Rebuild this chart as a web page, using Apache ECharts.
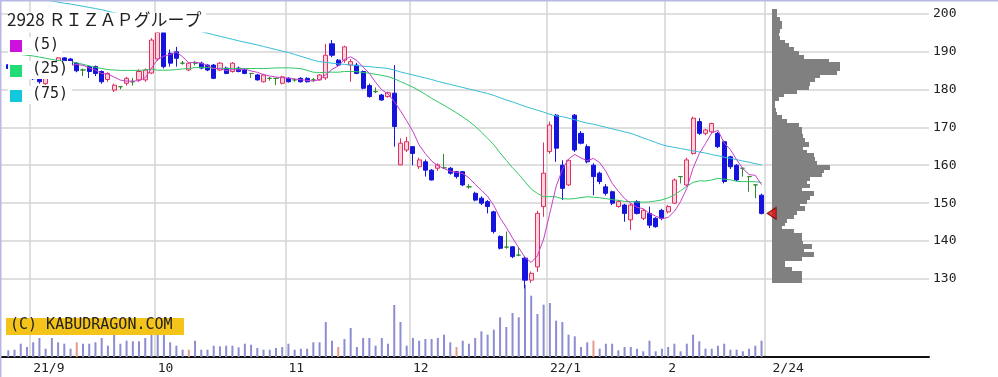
<!DOCTYPE html>
<html><head><meta charset="utf-8">
<script src="https://cdn.jsdelivr.net/npm/echarts/dist/echarts.min.js"></script>
<style>html,body{margin:0;padding:0;background:#fff;overflow:hidden}#c{width:998px;height:377px}</style>
</head><body><div id="c"></div>
<script>
// ---- trading days (categories) ----
const dates = [
'2021-08-26','2021-08-27','2021-08-30','2021-08-31',
'2021-09-01','2021-09-02','2021-09-03','2021-09-06','2021-09-07','2021-09-08','2021-09-09','2021-09-10','2021-09-13','2021-09-14','2021-09-15','2021-09-16','2021-09-17','2021-09-21','2021-09-22','2021-09-24','2021-09-27','2021-09-28','2021-09-29','2021-09-30',
'2021-10-01','2021-10-04','2021-10-05','2021-10-06','2021-10-07','2021-10-08','2021-10-11','2021-10-12','2021-10-13','2021-10-14','2021-10-15','2021-10-18','2021-10-19','2021-10-20','2021-10-21','2021-10-22','2021-10-25','2021-10-26','2021-10-27','2021-10-28','2021-10-29',
'2021-11-01','2021-11-02','2021-11-04','2021-11-05','2021-11-08','2021-11-09','2021-11-10','2021-11-11','2021-11-12','2021-11-15','2021-11-16','2021-11-17','2021-11-18','2021-11-19','2021-11-22','2021-11-24','2021-11-25','2021-11-26','2021-11-29','2021-11-30',
'2021-12-01','2021-12-02','2021-12-03','2021-12-06','2021-12-07','2021-12-08','2021-12-09','2021-12-10','2021-12-13','2021-12-14','2021-12-15','2021-12-16','2021-12-17','2021-12-20','2021-12-21','2021-12-22','2021-12-23','2021-12-24','2021-12-27','2021-12-28','2021-12-29','2021-12-30',
'2022-01-04','2022-01-05','2022-01-06','2022-01-07','2022-01-11','2022-01-12','2022-01-13','2022-01-14','2022-01-17','2022-01-18','2022-01-19','2022-01-20','2022-01-21','2022-01-24','2022-01-25','2022-01-26','2022-01-27','2022-01-28','2022-01-31',
'2022-02-01','2022-02-02','2022-02-03','2022-02-04','2022-02-07','2022-02-08','2022-02-09','2022-02-10','2022-02-14','2022-02-15','2022-02-16','2022-02-17','2022-02-18','2022-02-21','2022-02-22','2022-02-24'
];
// ---- daily prices ----
const open = [186.5,185.5,186.5,184.5,183.5,184.5,181.5,183.5,185.5,188.3,188,186.9,185.1,186,186,184.7,182.6,179.8,180.7,181.6,182,182.5,182.5,184.3,
188,195,189.5,189.9,186.9,185.1,186.9,186.9,186.4,186.4,185.1,185.6,184.7,185.6,185.1,184.2,183.8,182,182.9,182.9,181.6,
182.9,182.5,182.9,182.9,182.5,182.5,183,192,187.7,187.7,186.4,186.4,184.7,181,179.4,178.5,178.1,179,160.1,164,
164.9,159.6,160.9,158.7,159.2,159.3,159.2,158.3,158.3,154.3,152.6,151.3,150.4,147.7,141.2,138.4,138.5,136.3,135.5,129.7,133.2,149.1,
163.6,173.2,160,154.8,173.2,168.4,164.9,160,157.9,154.3,153,149.1,149.5,145.6,150.4,146,147.3,146,148.1,
147.7,150,157,154.8,163.1,171.5,168.4,168.8,168.4,166.2,162.2,160,159.2,157,154.8,152.1];
const high = [187,187,186.8,185,184,185,184.5,186.5,188.5,188.5,188.3,187.2,185.5,186.3,186.3,185,184.5,181.5,180.7,183.3,183,185.3,185.5,193.5,
195.5,195.3,190.5,191.2,187.5,187.2,187.5,187.3,186.6,186.7,187.2,186,187.2,186,185.4,184.2,184.1,184.1,183.3,182.9,183.6,
183.2,182.9,183.2,183.2,183,184,192,193,188,191.5,188,187,185,181.5,180.5,178.8,179.4,186.4,167.1,167.5,
165,162,161.5,159,160.5,163,159.5,158.5,158.5,155,153,151.8,150.8,148,141.5,142.5,138.7,138.4,136,132,148,166,
171.5,173.5,161.3,161.5,173.5,169,165.5,160.5,158.3,155,153.3,150.8,149.8,150,150.8,148.5,149.1,146.3,148.5,
149.5,156.5,157,162,172.8,172.4,169.6,171.2,168.8,166.5,162.5,160.3,159.2,157,155,152.5];
const low = [185,185,184,183,182.5,181.5,181.2,183.3,185.3,186.5,186.2,184.5,183.5,183,183.5,181.5,182,179.3,180,181,181,182,182,184,
187.5,185.5,186,186,186.5,184.8,186.3,185.3,184.8,182.7,184.8,184,184.4,184.5,184,183,182.3,181.8,182.3,181.1,181.3,
181.8,182,181.8,181.8,182,182.3,182.5,188.5,186,187,182,184,180,177.8,179,177,177.8,164.9,160,163.5,
160,159,157,156,158.5,159,157.5,156.5,154.5,153.8,150.5,149.5,147.3,142,137.8,138,135.5,136,127.5,129,131.9,146.4,
163,160.9,150.8,154.5,163.5,165.5,160.5,152.1,155,152,149.5,148.8,145.1,142.9,147,145.5,143.4,143.5,145.5,
147.3,149.8,155.2,154.5,162.8,168,167.9,168.5,164.5,155.2,159,155.8,157,153,151.3,147];
const close = [185.5,186.5,184.5,183.2,182.8,182,184,186,188.3,187,186.5,184.9,185.1,184.7,184.2,182,184.2,181.1,180.7,182.9,182,184.7,185.1,193,
195,186,186.9,188.2,186.9,186.9,186.9,185.6,185.1,182.9,186.9,184.2,186.9,184.7,184.2,184.2,182.5,183.8,182.9,182.9,183.3,
182,182.5,182,182,182.5,183.8,189,189,186.4,191.2,187.3,184.2,180.3,178.1,179.4,177.2,179.1,170.2,165.8,166.2,
163.1,161.4,158.7,156.1,160.1,159.3,157.9,157,154.8,154.3,150.8,150,149.1,142.5,138.1,138.4,135.9,136.3,129.7,131.5,147.3,157.9,
170.6,164.5,153.9,161.3,164,165.8,160.9,157,155.7,152.6,150,150.4,147.3,149.5,147.3,148.1,144.2,143.8,146,
149.1,156.1,157,161.4,172.4,168.4,169.3,171,164.9,155.7,159.6,156.1,159.2,157,154.8,147.3];
const volume = [6.7,7.3,13.3,10,14.7,19,8.3,19,14.7,13.3,8.3,14.7,13.3,13.3,14.7,19,11.3,22.3,13.3,16.3,15.7,15.7,19,22.3,
22.3,22.3,14.7,11.3,7.3,7.3,16.3,7.3,7.3,11.3,10.7,11.3,11.3,9.7,13.3,12.3,9,7.3,7.3,9,10,
13.3,7.3,8.3,8.3,14.7,14.7,35,16.3,10,18,29,10,19,19,11.3,19,13.3,52,35,11.3,
19,16.3,18,18,19,22.3,14.7,10,16.3,13.3,19,25.7,22.3,27.3,39.7,30,44,39.7,72.3,61.3,43,52.3,
54,36.3,35,22.3,20.7,10,14.7,16.3,8.3,13.3,13.3,6.7,10,10,8.3,5.7,16.3,5.7,8.3,
10,13.3,5.7,13.3,22.3,15.7,8.3,8.3,11.3,13.3,7.3,7.3,5.7,8.3,11.3,16.3];
const redVolumeDays = ['2021-09-10','2021-10-08','2021-11-12','2021-12-10','2022-01-14'];
// ---- moving averages ----
const ma25Lead = [189.6,189.4,189.2,189.0,188.8,188.5,188.2,187.9,187.6,187.4,187.2,187.0,186.6,186.2,185.8,185.5,185.2,185.1,185.0,185.0,185.0,185.0,185.1,185.4];
const ma75 = [205.5,205.2,204.9,204.6,204.2,203.9,203.6,203.3,203.0,202.7,
202.5,202.2,201.9,201.6,201.3,201.0,200.6,200.2,199.9,199.5,
199.2,198.8,198.5,198.1,197.8,197.4,197.0,196.7,196.3,195.9,
195.5,195.2,194.8,194.4,194.0,193.6,193.2,192.8,192.4,192.1,
191.7,191.3,190.9,190.5,190.1,189.7,189.2,188.7,188.2,187.7,
187.3,187.1,186.9,186.7,186.6,186.4,186.3,186.1,186.0,185.8,
185.7,185.5,185.1,184.6,184.2,183.8,183.4,183.0,182.6,182.1,
181.7,181.3,180.9,180.5,180.1,179.7,179.3,178.9,178.4,177.8,
177.2,176.7,176.1,175.5,175.0,174.5,174.0,173.4,173.0,172.8,
172.4,172.0,171.5,171.1,170.8,170.4,170.0,169.6,169.2,168.8,
168.4,167.8,167.2,166.6,166.0,165.4,165.0,164.7,164.4,164.1,
163.8,163.5,163.2,162.8,162.5,162.1,161.8,161.5,161.1,160.8,
160.4,160.1];
// ---- volume by price (1-yen bins, lower bound) ----
const profilePrice = [129,130,131,132,133,134,135,136,137,138,139,140,141,142,143,144,145,146,147,148,149,150,151,152,153,154,155,156,157,158,159,160,161,162,163,164,165,166,167,168,169,170,171,172,173,174,175,176,177,178,179,180,181,182,183,184,185,186,187,188,189,190,191,192,193,194,195,196,197,198,199,200];
const profileVolume = [30,30,30,20,13,13,30,42,32,40,31,30,30,22,10,13,15,22,25,33,28,35,38,42,30,38,35,38,50,52,58,45,43,42,35,31,37,33,31,30,30,27,15,10,5,4,3,3,7,12,25,37,38,43,48,65,68,68,57,32,27,22,17,13,8,7,8,10,10,8,5,5];
// ---- axis labels ----
const monthStartDates = ['2021-09-01','2021-10-01','2021-11-01','2021-12-01','2022-01-04','2022-02-01'];
const labelDates = ['2021-09-01','2021-10-01','2021-11-01','2021-12-01','2022-01-04','2022-02-01','2022-02-24'];
const labelTexts = ['21/9','10','11','12','22/1','2','2/24'];
const priceTicks = {min:130, max:200, step:10};
const title = '2928 ＲＩＺＡＰグループ';
const legendItems = ['(5)','(25)','(75)'];
const copyright = '(C) KABUDRAGON.COM';

// ---- layout ----
const K = 265.5/70;          // px per yen
const Y200 = 13.5, BOTTOM = 357, TOPF = 1;
const pMax = 200 + (Y200 - TOPF)/K;
const pMin = 200 - (BOTTOM - Y200)/K;
const BAND = 6.225, LEFT = 8.3 - BAND/2;
const N = dates.length;

const UP_FILL='#fbd3de', UP='#e0305f', DOWN='#1414dc', DOJI='#2f8a2f';
const C5='#c63fcc', C25='#30c865', C75='#36bdd6';
const MONO='"DejaVu Sans Mono", monospace';

function avg(n,i){let s=0;for(let k=i-n+1;k<=i;k++)s+=close[k];return +(s/n).toFixed(2);}
const ma5 = close.map((_,i)=> i>=4 ? avg(5,i) : null);
const ma25 = close.map((_,i)=> i>=24 ? avg(25,i) : ma25Lead[i]);

const candleData = dates.map((d,i)=>{
  const it={value:[open[i],close[i],low[i],high[i]]};
  if(open[i]===close[i]) it.itemStyle={color:DOJI,color0:DOJI,borderColor:DOJI,borderColor0:DOJI};
  return it;
});
const volData = dates.map((d,i)=>({value:volume[i], itemStyle:{color: redVolumeDays.includes(d)?'#e39a8e':'#8d8dd3'}}));
const profData = profilePrice.map((p,i)=>[profileVolume[i], p]);

const chart = echarts.init(document.getElementById('c'));
const hidden = {show:false};
chart.setOption({
  animation:false,
  backgroundColor:'#fff',
  grid:[
    {left:0, right:69, top:TOPF, bottom:20},
    {left:0, right:69, top:Y200, bottom:377-(Y200+70*K)},
    {left:LEFT, width:BAND*N, top:TOPF, bottom:20},
    {left:LEFT, width:BAND*N, top:257, bottom:20},
    {left:771.7, width:100, top:TOPF, bottom:20}
  ],
  xAxis:[
    {gridIndex:0, type:'value', min:0, max:1, axisLine:{show:true,onZero:false,lineStyle:{color:'#111',width:2}}, axisTick:hidden, axisLabel:hidden, splitLine:hidden},
    {gridIndex:1, type:'value', min:0, max:1, show:false},
    {gridIndex:2, type:'category', data:dates, boundaryGap:true,
      axisLine:hidden, axisTick:hidden,
      axisLabel:{interval:(i,v)=>labelDates.includes(v), align:'left', margin:5,
        fontFamily:MONO, fontSize:13, color:'#222',
        formatter:(v)=>{const t=labelTexts[labelDates.indexOf(v)]; return v===labelDates[labelDates.length-1]?'{e|'+t+'}':t;},
        rich:{e:{padding:[0,0,0,11],fontFamily:MONO,fontSize:13,color:'#222'}}},
      splitLine:{show:true, interval:(i,v)=>monthStartDates.includes(v), lineStyle:{color:'#d5d5d5',width:1.5}}},
    {gridIndex:3, type:'category', data:dates, boundaryGap:true, show:false},
    {gridIndex:4, type:'value', min:0, max:100, show:false}
  ],
  yAxis:[
    {gridIndex:0, type:'value', min:0, max:1, position:'right', axisLine:{show:true,lineStyle:{color:'#111',width:1.5}}, axisTick:hidden, axisLabel:hidden, splitLine:hidden},
    {gridIndex:1, type:'value', min:priceTicks.min, max:priceTicks.max, interval:priceTicks.step, position:'right',
      axisLine:hidden, axisTick:{show:true,inside:true,length:5,lineStyle:{color:'#666',width:1.5}},
      axisLabel:{margin:4, fontFamily:MONO, fontSize:13, color:'#222'},
      splitLine:{show:true,lineStyle:{color:'#d5d5d5',width:1.5}}},
    {gridIndex:2, type:'value', min:pMin, max:pMax, show:false},
    {gridIndex:3, type:'value', min:0, max:100, show:false},
    {gridIndex:4, type:'value', min:pMin, max:pMax, show:false}
  ],
  series:[
    {type:'bar', xAxisIndex:3, yAxisIndex:3, data:volData, barWidth:2, z:1},
    {type:'custom', xAxisIndex:4, yAxisIndex:4, data:profData, encode:{x:0,y:1}, z:2,
      renderItem:(params,api)=>{
        const a=api.coord([0, api.value(1)+1]);
        const b=api.coord([api.value(0), api.value(1)]);
        return {type:'rect', shape:{x:Math.round(a[0]), y:Math.floor(a[1]), width:Math.round(b[0]-a[0]), height:Math.ceil(b[1])-Math.floor(a[1])}, style:{fill:'#808080'}};
      }},
    {type:'candlestick', xAxisIndex:2, yAxisIndex:2, data:candleData, barWidth:4.6, z:3,
      itemStyle:{color:UP_FILL, color0:DOWN, borderColor:UP, borderColor0:DOWN, borderWidth:1}},
    {type:'line', xAxisIndex:2, yAxisIndex:2, data:ma75, symbol:'none', lineStyle:{color:C75,width:1}, z:4},
    {type:'line', xAxisIndex:2, yAxisIndex:2, data:ma25, symbol:'none', lineStyle:{color:C25,width:1}, z:4},
    {type:'line', xAxisIndex:2, yAxisIndex:2, data:ma5, symbol:'none', lineStyle:{color:C5,width:1}, z:5},
    {type:'scatter', xAxisIndex:4, yAxisIndex:4, data:[[0, close[N-1]]], symbol:'triangle', symbolRotate:90,
      symbolSize:[12,9], itemStyle:{color:'#e01010', borderColor:'#7a0000', borderWidth:1}, z:6}
  ],
  graphic:[
    {type:'rect', shape:{x:0,y:0,width:998,height:1.5}, style:{fill:'#b8b8e6'}, z:100},
    {type:'rect', shape:{x:0,y:0,width:1.5,height:377}, style:{fill:'#b8b8e6'}, z:100},
    {type:'rect', shape:{x:8,y:12.5,width:198,height:20}, style:{fill:'#fff'}, z:100},
    {type:'text', left:7, top:11, style:{text:title, font:'17px "Noto Sans CJK JP"', fill:'#222'}, z:101},
    {type:'rect', shape:{x:8,y:37,width:54,height:18}, style:{fill:'#fff'}, z:100},
    {type:'rect', shape:{x:8,y:61,width:64,height:18}, style:{fill:'#fff'}, z:100},
    {type:'rect', shape:{x:8,y:86,width:64,height:18}, style:{fill:'#fff'}, z:100},
    {type:'rect', shape:{x:10,y:40,width:12,height:12}, style:{fill:'#cc11dd'}, z:101},
    {type:'rect', shape:{x:10,y:65,width:12,height:12}, style:{fill:'#22dd77'}, z:101},
    {type:'rect', shape:{x:10,y:90,width:12,height:12}, style:{fill:'#11c8dd'}, z:101},
    {type:'text', left:32, top:38, style:{text:legendItems[0], font:'15px '+MONO, fill:'#222'}, z:101},
    {type:'text', left:32, top:62, style:{text:legendItems[1], font:'15px '+MONO, fill:'#222'}, z:101},
    {type:'text', left:32, top:87, style:{text:legendItems[2], font:'15px '+MONO, fill:'#222'}, z:101},
    {type:'rect', shape:{x:6,y:318,width:178,height:17}, style:{fill:'#f4c41a'}, z:100},
    {type:'text', left:10, top:318, style:{text:copyright, font:'15px '+MONO, fill:'#222'}, z:101}
  ]
});
</script></body></html>
